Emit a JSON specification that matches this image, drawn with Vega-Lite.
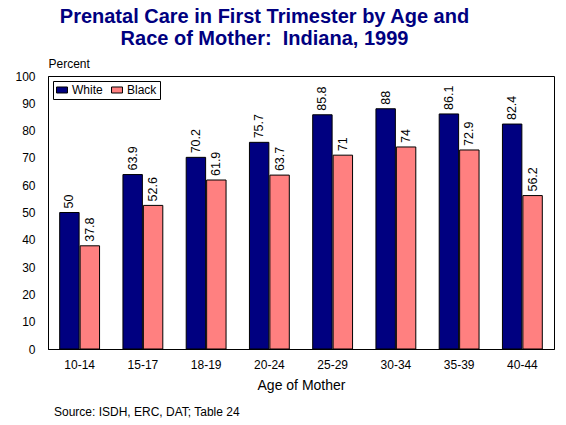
{
  "$schema": "https://vega.github.io/schema/vega-lite/v6.json",
  "autosize": {"type": "pad"},
  "padding": {"left": 14, "top": 6, "right": 13, "bottom": 8},
  "title": {
    "text": ["Prenatal Care in First Trimester by Age and", "Race of Mother:\u00a0 Indiana, 1999"],
    "font": "Liberation Sans",
    "fontSize": 20,
    "fontWeight": "bold",
    "color": "#000080",
    "lineHeight": 22,
    "anchor": "middle",
    "dx": -20,
    "offset": 8
  },
  "vconcat": [
    {
      "width": 506,
      "height": 273,
      "title": {
        "text": "Source: ISDH, ERC, DAT; Table 24",
        "orient": "bottom",
        "anchor": "start",
        "frame": "group",
        "font": "Liberation Sans",
        "fontSize": 12,
        "fontWeight": "normal",
        "color": "black",
        "dx": 6,
        "offset": 15
      },
      "data": {
        "values": [
          {"age": "10-14", "race": "White", "pct": 50},
          {"age": "10-14", "race": "Black", "pct": 37.8},
          {"age": "15-17", "race": "White", "pct": 63.9},
          {"age": "15-17", "race": "Black", "pct": 52.6},
          {"age": "18-19", "race": "White", "pct": 70.2},
          {"age": "18-19", "race": "Black", "pct": 61.9},
          {"age": "20-24", "race": "White", "pct": 75.7},
          {"age": "20-24", "race": "Black", "pct": 63.7},
          {"age": "25-29", "race": "White", "pct": 85.8},
          {"age": "25-29", "race": "Black", "pct": 71},
          {"age": "30-34", "race": "White", "pct": 88},
          {"age": "30-34", "race": "Black", "pct": 74},
          {"age": "35-39", "race": "White", "pct": 86.1},
          {"age": "35-39", "race": "Black", "pct": 72.9},
          {"age": "40-44", "race": "White", "pct": 82.4},
          {"age": "40-44", "race": "Black", "pct": 56.2}
        ]
      },
      "encoding": {
        "x": {
          "field": "age",
          "type": "nominal",
          "sort": null,
          "scale": {"paddingInner": 0.37, "paddingOuter": 0.185},
          "axis": {
            "title": "Age of Mother",
            "titleFontSize": 14,
            "titleFontWeight": "normal",
            "titlePadding": 8,
            "labelAngle": 0,
            "labelFontSize": 12,
            "labelPadding": 10,
            "ticks": false,
            "domainColor": "black"
          }
        },
        "xOffset": {"field": "race", "sort": ["White", "Black"], "scale": {"paddingInner": 0.05}},
        "y": {
          "field": "pct",
          "type": "quantitative",
          "scale": {"domain": [0, 100]},
          "axis": {
            "title": "Percent",
            "titleAngle": 0,
            "titleX": 0,
            "titleY": -6,
            "titleAlign": "left",
            "titleBaseline": "bottom",
            "titleFontSize": 12,
            "titleFontWeight": "normal",
            "values": [0, 10, 20, 30, 40, 50, 60, 70, 80, 90, 100],
            "labelFontSize": 12,
            "labelPadding": 13,
            "ticks": false,
            "grid": false,
            "domainColor": "black"
          }
        }
      },
      "layer": [
        {
          "mark": {"type": "bar", "stroke": "black", "strokeWidth": 1},
          "encoding": {
            "color": {
              "field": "race",
              "type": "nominal",
              "sort": ["White", "Black"],
              "scale": {"domain": ["White", "Black"], "range": ["#000080", "#FF8080"]},
              "legend": {
                "title": null,
                "orient": "top-left",
                "direction": "horizontal",
                "offset": 5,
                "fillColor": "white",
                "strokeColor": "black",
                "padding": 3,
                "labelFontSize": 12,
                "labelColor": "black",
                "symbolType": "M-1,-0.55H1V0.55H-1Z",
                "symbolSize": 120,
                "symbolStrokeColor": "black",
                "symbolStrokeWidth": 1,
                "symbolOpacity": 1,
                "columnPadding": 6
              }
            }
          }
        },
        {
          "mark": {"type": "text", "angle": 270, "align": "left", "baseline": "middle", "dx": 4, "fontSize": 12.5, "color": "black"},
          "encoding": {"text": {"field": "pct", "type": "nominal"}}
        }
      ]
    }
  ],
  "config": {
    "font": "Liberation Sans",
    "view": {"stroke": "black", "strokeWidth": 1},
    "axis": {"labelColor": "black", "titleColor": "black", "labelFont": "Liberation Sans", "titleFont": "Liberation Sans"},
    "legend": {"labelFont": "Liberation Sans"}
  }
}
